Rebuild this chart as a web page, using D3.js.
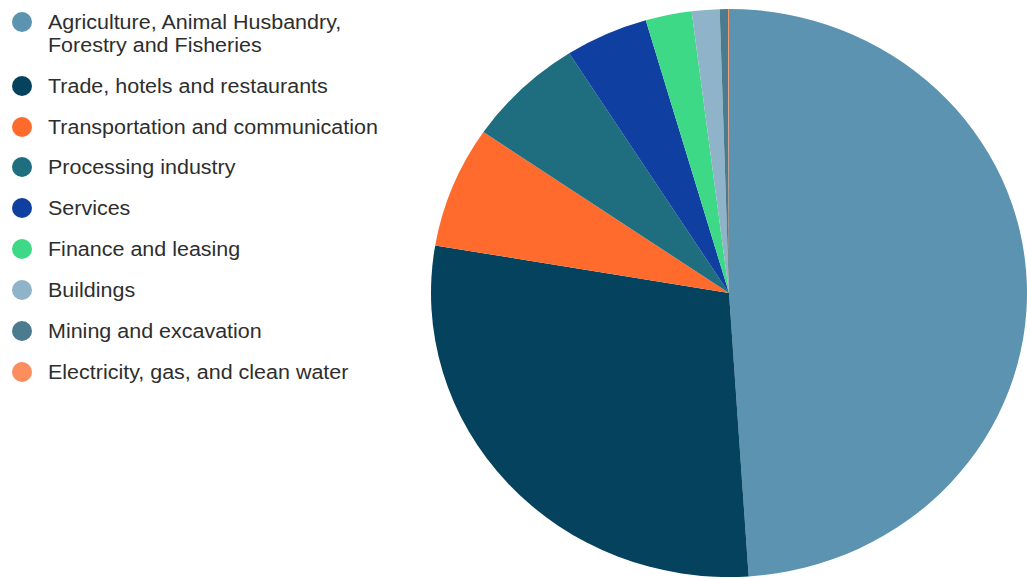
<!DOCTYPE html>
<html>
<head>
<meta charset="utf-8">
<script src="https://cdn.jsdelivr.net/npm/d3@7"></script>
<style>
  html, body { margin: 0; padding: 0; background: #ffffff; }
  svg { display: block; }
</style>
</head>
<body>
<svg id="chart" width="1027" height="579"></svg>
<script>
const categories = [
  "Agriculture, Animal Husbandry, Forestry and Fisheries",
  "Trade, hotels and restaurants",
  "Transportation and communication",
  "Processing industry",
  "Services",
  "Finance and leasing",
  "Buildings",
  "Mining and excavation",
  "Electricity, gas, and clean water"
];
const labelLines = [
  ["Agriculture, Animal Husbandry,", "Forestry and Fisheries"],
  ["Trade, hotels and restaurants"],
  ["Transportation and communication"],
  ["Processing industry"],
  ["Services"],
  ["Finance and leasing"],
  ["Buildings"],
  ["Mining and excavation"],
  ["Electricity, gas, and clean water"]
];
const values = [48.9, 28.7, 6.9, 6.4, 4.5, 2.5, 1.5, 0.45, 0.05];
const colors = ["#5b93b0", "#04425e", "#fe6b2d", "#1f6e80", "#0f3fa0", "#3ed987", "#8fb3c8", "#4a7b8f", "#fb8e5c"];

const svg = d3.select("#chart");
const color = d3.scaleOrdinal().domain(categories).range(colors);

// Pie
const cx = 729, cy = 293, ry = 284, rx = 298;
const pie = d3.pie().sort(null).value(d => d.value);
const arc = d3.arc().innerRadius(0).outerRadius(ry);
const data = categories.map((c, i) => ({ name: c, value: values[i] }));
const g = svg.append("g").attr("transform", `translate(${cx},${cy}) scale(${rx / ry},1)`);
g.selectAll("path").data(pie(data)).join("path")
  .attr("d", arc)
  .attr("fill", d => color(d.data.name));

// Legend
const legendY = [22, 86, 127, 167, 208, 249, 290, 331, 372];
const lineGap = 23;
const lg = svg.append("g");
const textG = lg.append("g").attr("transform", "translate(48,0)");
categories.forEach((c, i) => {
  lg.append("circle").attr("cx", 22).attr("cy", legendY[i]).attr("r", 10).attr("fill", color(c));
  const t = textG.append("text")
    .attr("x", 0).attr("y", legendY[i])
    .attr("font-family", "'Liberation Sans', Arial, sans-serif")
    .attr("font-size", 20)
    .attr("fill", "#2e2e2e");
  labelLines[i].forEach((ln, j) => {
    t.append("tspan").attr("x", 0).attr("y", legendY[i] + j * lineGap).attr("dy", "0.34em").text(ln);
  });
});
// horizontal stretch to match the reference's text width
const ref = textG.selectAll("text").nodes()[2];
const w = ref.getComputedTextLength();
const sx = 330 / w;
textG.attr("transform", `translate(48,0) scale(${sx},1)`);
</script>
</body>
</html>
